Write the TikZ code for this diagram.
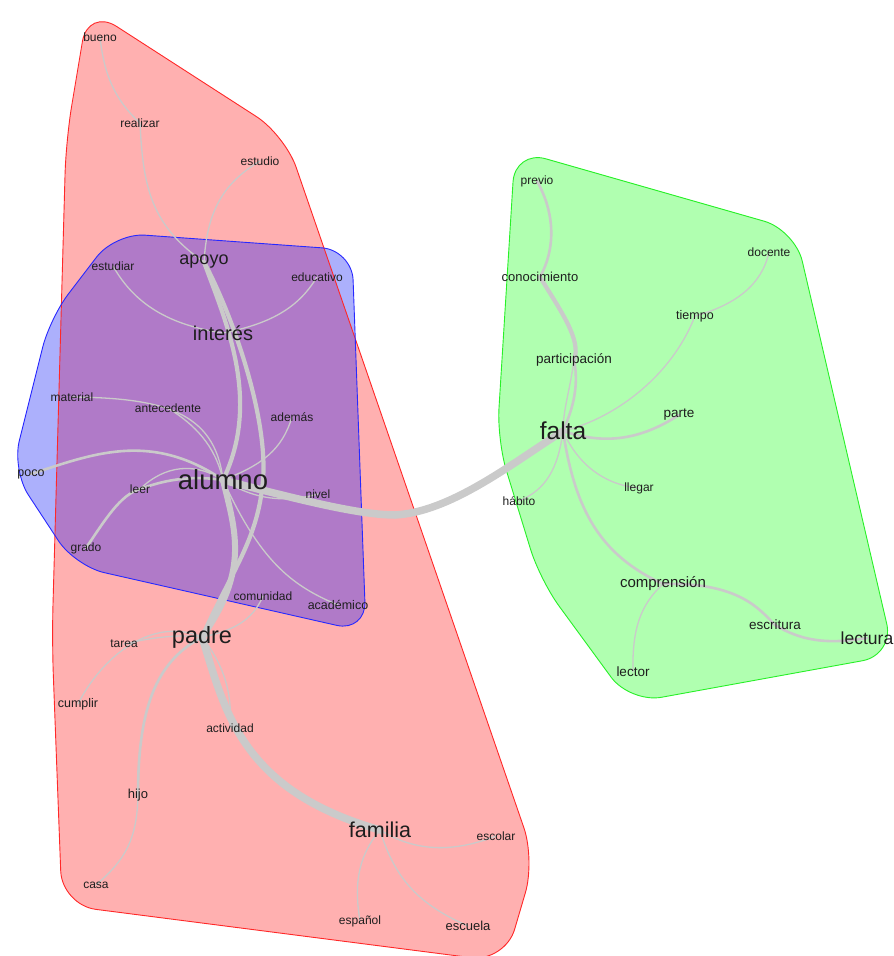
\documentclass[tikz,border=0pt]{standalone}
\usepackage{fontspec}
\setmainfont{Liberation Sans}
\usetikzlibrary{backgrounds}
\definecolor{redfill}{RGB}{255,176,176}
\definecolor{redline}{RGB}{255,40,40}
\definecolor{bluefill}{RGB}{172,176,252}
\definecolor{blueline}{RGB}{40,40,255}
\definecolor{purplefill}{RGB}{176,122,200}
\definecolor{greenfill}{RGB}{176,255,176}
\definecolor{greenline}{RGB}{40,240,40}
\definecolor{edgecol}{RGB}{202,202,202}
\definecolor{txt}{RGB}{30,30,30}
\pgfdeclarelayer{hull}
\pgfsetlayers{hull,background,main}
\def\myRedHull{[rounded corners=34pt] (88,8) -- (285,135) -- (535,860) -- (505,962) -- (62,905) -- (52,640) -- (66,140) -- cycle}
\def\myBlueHull{[rounded corners=30pt] (115,233) -- (352,250) -- (366,632) -- (75,566) -- (12,470) -- (50,318) -- cycle}
\def\myGreenHull{[rounded corners=32pt] (515,150) -- (795,230) -- (894,655) -- (630,703) -- (540,580) -- (497,440) -- cycle}
\tikzset{
  lbl/.style={text=txt,inner sep=0pt,font=\fontsize{12}{14}\selectfont},
  fs/.style={font=\fontsize{#1}{#1}\selectfont},
  ea/.style={draw=edgecol,line width=1.3pt,line cap=round},
  eb/.style={draw=edgecol,line width=2.6pt,line cap=round},
  ec/.style={draw=edgecol,line width=4.2pt,line cap=round},
  ed/.style={draw=edgecol,line width=6pt,line cap=round},
  ee/.style={draw=edgecol,line width=7.5pt,line cap=round},
}
\begin{document}
\begin{tikzpicture}[x=1pt,y=-1pt]
\useasboundingbox (0,0) rectangle (894,956);
% hulls
\begin{pgfonlayer}{hull}
\fill[redfill] \myRedHull;
\fill[bluefill] \myBlueHull;
\begin{scope}
\clip \myRedHull;
\fill[purplefill] \myBlueHull;
\end{scope}
\fill[greenfill] \myGreenHull;
\draw[redline,line width=0.9pt] \myRedHull;
\draw[blueline,line width=0.9pt] \myBlueHull;
\draw[greenline,line width=0.9pt] \myGreenHull;
\end{pgfonlayer}
% labels
\node[lbl] (bueno) at (100,37) {bueno};
\node[lbl] (realizar) at (140,123) {realizar};
\node[lbl] (estudio) at (260,161) {estudio};
\node[lbl,fs=18] (apoyo) at (204,262) {apoyo};
\node[lbl] (estudiar) at (113,266) {estudiar};
\node[lbl] (educativo) at (317,277) {educativo};
\node[lbl,fs=20] (interes) at (223,333) {interés};
\node[lbl] (material) at (72,397) {material};
\node[lbl] (antecedente) at (168,408) {antecedente};
\node[lbl] (ademas) at (292,417) {además};
\node[lbl,fs=12.5] (poco) at (31,474) {poco};
\node[lbl,fs=27.5] (alumno) at (223,480) {alumno};
\node[lbl] (leer) at (140,489) {leer};
\node[lbl] (nivel) at (318,494) {nivel};
\node[lbl] (grado) at (86,548) {grado};
\node[lbl] (comunidad) at (263,596) {comunidad};
\node[lbl,fs=12.5] (academico) at (338,605) {académico};
\node[lbl,fs=23.5] (padre) at (202,637) {padre};
\node[lbl] (tarea) at (124,644) {tarea};
\node[lbl,fs=12.5] (cumplir) at (78,704) {cumplir};
\node[lbl] (actividad) at (230,728) {actividad};
\node[lbl,fs=13] (hijo) at (138,795) {hijo};
\node[lbl,fs=21.5] (familia) at (380,830) {familia};
\node[lbl] (escolar) at (496,836) {escolar};
\node[lbl] (casa) at (96,885) {casa};
\node[lbl] (espanol) at (360,921) {español};
\node[lbl,fs=13] (escuela) at (468,926) {escuela};
\node[lbl] (previo) at (537,181) {previo};
\node[lbl,fs=13] (conocimiento) at (540,277) {conocimiento};
\node[lbl] (docente) at (769,252) {docente};
\node[lbl,fs=12.5] (tiempo) at (695,316) {tiempo};
\node[lbl,fs=13.5] (participacion) at (574,360) {participación};
\node[lbl,fs=13.5] (parte) at (679,415) {parte};
\node[lbl,fs=24.5] (falta) at (563,431) {falta};
\node[lbl] (llegar) at (639,488) {llegar};
\node[lbl] (habito) at (519,501) {hábito};
\node[lbl,fs=15] (comprension) at (663,584) {comprensión};
\node[lbl,fs=13.5] (escritura) at (775,625) {escritura};
\node[lbl,fs=17.5] (lectura) at (867,638) {lectura};
\node[lbl,fs=13.5] (lector) at (633,672) {lector};
% edges
\begin{pgfonlayer}{background}
% top red cluster
\draw[ea] (bueno.center) .. controls (104,75) and (115,100) .. (realizar.center);
\draw[ea] (realizar.center) .. controls (143,185) and (150,225) .. (apoyo.center);
\draw[ea] (estudio.center) .. controls (220,185) and (207,215) .. (apoyo.center);
\draw[ea] (estudiar.center) .. controls (135,305) and (170,325) .. (interes.center);
\draw[ea] (educativo.center) .. controls (300,305) and (275,323) .. (interes.center);
% trunk
\draw[ec] (apoyo.center) .. controls (225,320) and (262,400) .. (alumno.center);
\draw[ec] (apoyo.center) .. controls (235,320) and (268,420) .. (263,480) .. controls (258,540) and (232,570) .. (padre.center);
\draw[ed] (alumno.center) .. controls (235,530) and (250,570) .. (padre.center);
\draw[ee] (alumno.center) .. controls (300,500) and (360,515) .. (395,515) .. controls (450,512) and (510,465) .. (falta.center);
% around alumno
\draw[ea] (material.center) .. controls (160,398) and (215,410) .. (alumno.center);
\draw[ea] (antecedente.center) .. controls (195,425) and (215,445) .. (alumno.center);
\draw[eb] (poco.center) .. controls (90,455) and (150,430) .. (alumno.center);
\draw[eb] (leer.center) .. controls (170,478) and (195,476) .. (alumno.center);
\draw[ea] (leer.center) .. controls (165,465) and (195,462) .. (alumno.center);
\draw[eb] (grado.center) .. controls (105,520) and (120,495) .. (leer.center);
\draw[ea] (ademas.center) .. controls (282,450) and (262,465) .. (alumno.center);
\draw[ea] (alumno.center) .. controls (255,500) and (285,503) .. (nivel.center);
\draw[ea] (alumno.center) .. controls (260,560) and (290,585) .. (academico.center);
\draw[ea] (comunidad.center) .. controls (255,615) and (240,630) .. (padre.center);
% around padre
\draw[ee] (padre.center) .. controls (225,710) and (240,790) .. (familia.center);
\draw[eb] (padre.center) .. controls (160,660) and (138,700) .. (hijo.center);
\draw[ea] (hijo.center) .. controls (137,840) and (125,860) .. (casa.center);
\draw[ea] (tarea.center) .. controls (150,638) and (175,634) .. (padre.center);
\draw[ea] (cumplir.center) .. controls (100,660) and (150,615) .. (padre.center);
\draw[ea] (padre.center) .. controls (228,670) and (232,700) .. (actividad.center);
% around familia
\draw[ea] (familia.center) .. controls (355,860) and (355,890) .. (espanol.center);
\draw[ea] (familia.center) .. controls (395,880) and (420,905) .. (escuela.center);
\draw[ea] (familia.center) .. controls (420,855) and (460,850) .. (escolar.center);
% green cluster
\draw[eb] (previo.center) .. controls (556,215) and (555,250) .. (conocimiento.center);
\draw[ec] (conocimiento.center) .. controls (560,310) and (582,340) .. (participacion.center);
\draw[eb] (participacion.center) .. controls (580,390) and (570,415) .. (falta.center);
\draw[ea] (participacion.center) .. controls (570,390) and (563,410) .. (falta.center);
\draw[ea] (docente.center) .. controls (762,285) and (735,305) .. (tiempo.center);
\draw[ea] (tiempo.center) .. controls (670,380) and (610,420) .. (falta.center);
\draw[eb] (parte.center) .. controls (640,440) and (605,445) .. (falta.center);
\draw[ea] (falta.center) .. controls (578,465) and (605,485) .. (llegar.center);
\draw[ea] (falta.center) .. controls (558,470) and (545,490) .. (habito.center);
\draw[eb] (falta.center) .. controls (575,510) and (600,555) .. (comprension.center);
\draw[ea] (comprension.center) .. controls (640,605) and (632,630) .. (lector.center);
\draw[eb] (comprension.center) .. controls (740,582) and (760,610) .. (escritura.center) .. controls (800,640) and (825,645) .. (lectura.center);
\end{pgfonlayer}
\end{tikzpicture}
\end{document}
